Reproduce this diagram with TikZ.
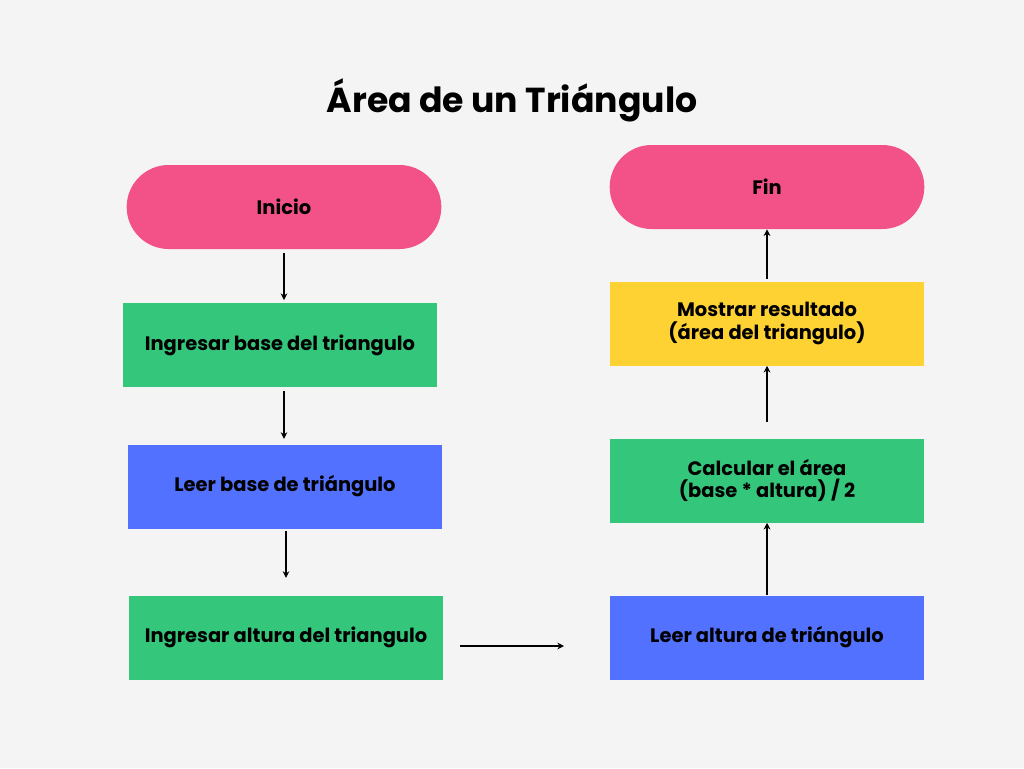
\documentclass[tikz,border=0pt]{standalone}
\usepackage{fontspec}
\setmainfont{Poppins}
\usetikzlibrary{arrows.meta}
\definecolor{bgc}{HTML}{F4F4F4}
\definecolor{pinkc}{HTML}{F25287}
\definecolor{greenc}{HTML}{34C77B}
\definecolor{bluec}{HTML}{5271FF}
\definecolor{yellowc}{HTML}{FFD233}
\begin{document}
\begin{tikzpicture}[x=0.75pt,y=-0.75pt,
  box/.style={minimum width=236pt,minimum height=63pt,inner sep=0pt,align=center,font=\fontsize{14.6}{17}\selectfont\bfseries},
  term/.style={box,fill=pinkc,rounded corners=31.5pt},
  arr/.style={-{Stealth[length=5pt,width=5pt]},line width=1pt,black}]
\fill[bgc] (0,0) rectangle (1024,768);
\useasboundingbox (0,0) rectangle (1024,768);
\node[font=\fontsize{26}{30}\selectfont\bfseries] (title) at (512,100) {Área de un Triángulo};
\node[term] (inicio) at (284,207) {Inicio};
\node[box,fill=greenc] (ingb) at (280,345) {Ingresar base del triangulo};
\node[box,fill=bluec] (leerb) at (285,486.5) {Leer base de triángulo};
\node[box,fill=greenc] (inga) at (286,637.5) {Ingresar altura del triangulo};
\node[box,fill=bluec] (leera) at (767,637.5) {Leer altura de triángulo};
\node[box,fill=greenc] (calc) at (767,480.5) {Calcular el área\\(base * altura) / 2};
\node[box,fill=yellowc] (most) at (767,323.5) {Mostrar resultado\\(área del triangulo)};
\node[term] (fin) at (767,187) {Fin};
\coordinate (h1) at (460,646);
\coordinate (h2) at (564,646);
\draw[arr,shorten <=3pt,shorten >=2pt] (inicio.south) -- (inicio.south |- ingb.north);
\draw[arr,shorten <=3pt,shorten >=4pt] (inicio.south |- ingb.south) -- (inicio.south |- leerb.north);
\draw[arr,shorten <=2pt,shorten >=13pt] (inga.north |- leerb.south) -- (inga.north);
\draw[arr] (h1) -- (h2);
\draw[arr,shorten >=0pt] (leera.north) -- (calc.south);
\draw[arr,shorten <=12pt] (calc.north) -- (most.south);
\draw[arr,shorten <=2pt,shorten >=0pt] (most.north) -- (fin.south);
\end{tikzpicture}
\end{document}
